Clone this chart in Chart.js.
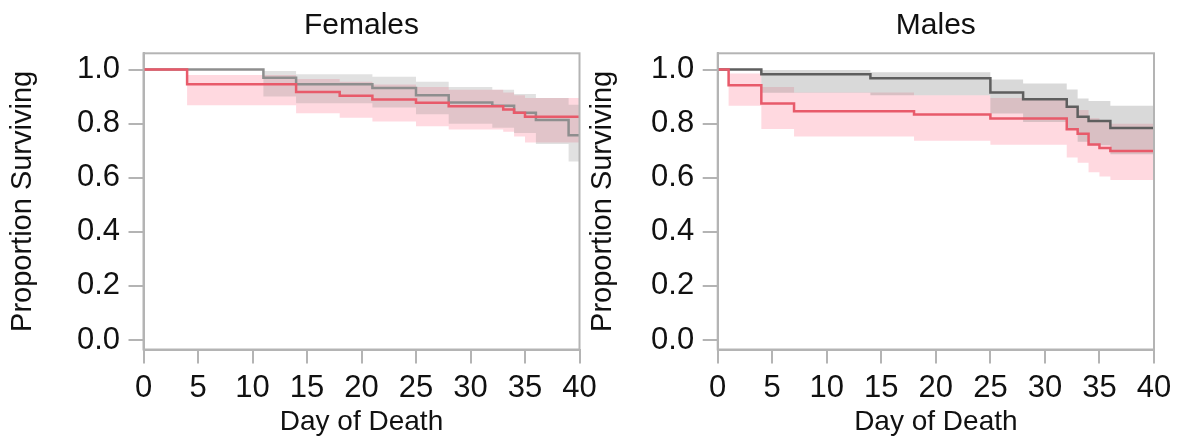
<!DOCTYPE html>
<html>
<head>
<meta charset="utf-8">
<script src="https://cdn.jsdelivr.net/npm/chart.js@4.4.1/dist/chart.umd.min.js"></script>
<style>
  html, body { margin: 0; padding: 0; background: #fff; }
  body { width: 1184px; height: 441px; position: relative; overflow: hidden; }
  .panel { position: absolute; top: 0; height: 441px; }
  #females-wrap { left: 0; width: 600px; }
  #males-wrap { left: 580px; width: 604px; }
</style>
</head>
<body>
<div class="panel" id="females-wrap"><canvas id="chart-females"></canvas></div>
<div class="panel" id="males-wrap"><canvas id="chart-males"></canvas></div>
<script>
// axis ticks
const dayTicks = [0, 5, 10, 15, 20, 25, 30, 35, 40];
const survTicks = [0, 0.2, 0.4, 0.6, 0.8, 1.0];

// Females - grey group (KM estimate + confidence band)
const femGreyDays  = [0, 11, 14, 21, 25, 28, 32, 34, 36, 39, 40];
const femGreySurv  = [1, 0.970, 0.946, 0.932, 0.905, 0.878, 0.866, 0.840, 0.813, 0.757, 0.757];
const femGreyUpper = [1, 0.995, 0.983, 0.973, 0.955, 0.935, 0.925, 0.910, 0.895, 0.870, 0.870];
const femGreyLower = [1, 0.900, 0.875, 0.860, 0.835, 0.800, 0.785, 0.765, 0.725, 0.660, 0.660];

// Females - red group
const femRedDays  = [0, 4, 14, 18, 21, 25, 28, 33, 34, 35, 40];
const femRedSurv  = [1, 0.946, 0.917, 0.903, 0.889, 0.877, 0.864, 0.852, 0.840, 0.825, 0.825];
const femRedUpper = [1, 0.980, 0.965, 0.955, 0.945, 0.935, 0.925, 0.915, 0.905, 0.895, 0.895];
const femRedLower = [1, 0.868, 0.838, 0.822, 0.808, 0.790, 0.778, 0.770, 0.752, 0.730, 0.730];

// Males - grey group
const maleGreyDays  = [0, 4, 14, 25, 28, 32, 33, 34, 36, 40];
const maleGreySurv  = [1, 0.983, 0.968, 0.915, 0.890, 0.862, 0.825, 0.810, 0.784, 0.784];
const maleGreyUpper = [1, 0.998, 0.990, 0.963, 0.948, 0.926, 0.893, 0.884, 0.866, 0.866];
const maleGreyLower = [1, 0.914, 0.905, 0.837, 0.806, 0.776, 0.733, 0.720, 0.687, 0.687];

// Males - red group
const maleRedDays  = [0, 1, 4, 7, 18, 25, 32, 33, 34, 35, 36, 40];
const maleRedSurv  = [1, 0.942, 0.874, 0.846, 0.834, 0.819, 0.779, 0.763, 0.723, 0.710, 0.699, 0.699];
const maleRedUpper = [1, 0.985, 0.935, 0.915, 0.905, 0.895, 0.865, 0.850, 0.820, 0.810, 0.800, 0.800];
const maleRedLower = [1, 0.866, 0.780, 0.752, 0.737, 0.722, 0.675, 0.655, 0.620, 0.605, 0.592, 0.592];

const fontFamily = "'Liberation Sans', Arial, sans-serif";
const textColor = '#111111';
const axisColor = '#b4b4b4';
const redLine = '#e85a6a';
const redBand = 'rgba(255, 120, 145, 0.28)';

const pts = (days, vals) => days.map((d, i) => ({ x: d, y: vals[i] }));

// grey frame round the plot area
const frameBox = {
  id: 'frameBox',
  afterDatasetsDraw(chart) {
    const { ctx, chartArea: a } = chart;
    ctx.save();
    ctx.strokeStyle = axisColor;
    ctx.lineWidth = 2;
    ctx.strokeRect(a.left, a.top, a.right - a.left, a.bottom - a.top);
    ctx.restore();
  },
};

function stepLine(data, color) {
  return { data, borderColor: color, borderWidth: 2.5, stepped: true, pointRadius: 0, fill: false };
}

function bandEdge(data, fill, color) {
  return {
    data, stepped: true, pointRadius: 0, borderWidth: 0,
    borderColor: 'transparent', backgroundColor: color || 'transparent', fill,
  };
}

function survivalChart(id, cfg) {
  const ctx = document.getElementById(id);
  return new Chart(ctx, {
    type: 'line',
    data: {
      datasets: [
        stepLine(pts(cfg.red.days, cfg.red.surv), redLine),
        stepLine(pts(cfg.grey.days, cfg.grey.surv), cfg.greyLine),
        bandEdge(pts(cfg.grey.days, cfg.grey.upper), '+1', cfg.greyBand),
        bandEdge(pts(cfg.grey.days, cfg.grey.lower), false),
        bandEdge(pts(cfg.red.days, cfg.red.upper), '+1', redBand),
        bandEdge(pts(cfg.red.days, cfg.red.lower), false),
      ],
    },
    options: {
      responsive: true,
      maintainAspectRatio: false,
      animation: false,
      layout: { padding: { left: 0, right: cfg.rightPad, top: 0, bottom: 0 } },
      plugins: {
        legend: { display: false },
        tooltip: { enabled: false },
        title: {
          display: true,
          text: cfg.title,
          fullSize: false,
          color: textColor,
          font: { family: fontFamily, size: 30, weight: 'normal' },
          padding: { top: 7.5, bottom: 9.8 },
        },
      },
      scales: {
        x: {
          type: 'linear',
          min: 0,
          max: 40,
          afterBuildTicks: s => { s.ticks = dayTicks.map(v => ({ value: v })); },
          afterFit: s => { s.height = 91.5; s.paddingLeft = 0; s.paddingRight = 0; },
          grid: { drawOnChartArea: false, drawTicks: true, tickLength: 14, color: axisColor, lineWidth: 2 },
          border: { display: true, color: axisColor, width: 2 },
          ticks: { padding: 6, color: textColor, autoSkip: false, maxRotation: 0, font: { family: fontFamily, size: 31 } },
          title: {
            display: true, text: 'Day of Death', color: textColor,
            font: { family: fontFamily, size: 28 }, padding: { top: 0, bottom: 1.5 },
          },
        },
        y: {
          min: -0.035,
          max: 1.06,
          afterBuildTicks: s => { s.ticks = survTicks.map(v => ({ value: v })); },
          afterFit: s => { s.width = cfg.yWidth; s.paddingTop = 0; s.paddingBottom = 0; },
          grid: { drawOnChartArea: false, drawTicks: true, tickLength: 15, color: axisColor, lineWidth: 2 },
          border: { display: true, color: axisColor, width: 2 },
          ticks: {
            padding: 8.5, color: textColor, font: { family: fontFamily, size: 31 },
            callback: v => Number(v).toFixed(1),
          },
          title: {
            display: true, text: 'Proportion Surviving', color: textColor,
            font: { family: fontFamily, size: 29 }, padding: { top: 5.6, bottom: 0 },
          },
        },
      },
    },
    plugins: [frameBox],
  });
}

survivalChart('chart-females', {
  title: 'Females',
  yWidth: 143.5,
  rightPad: 20.5,
  greyLine: '#8e8e8e',
  greyBand: 'rgba(128, 128, 128, 0.24)',
  grey: { days: femGreyDays, surv: femGreySurv, upper: femGreyUpper, lower: femGreyLower },
  red: { days: femRedDays, surv: femRedSurv, upper: femRedUpper, lower: femRedLower },
});

survivalChart('chart-males', {
  title: 'Males',
  yWidth: 137.7,
  rightPad: 30,
  greyLine: '#5e5e5e',
  greyBand: 'rgba(128, 128, 128, 0.3)',
  grey: { days: maleGreyDays, surv: maleGreySurv, upper: maleGreyUpper, lower: maleGreyLower },
  red: { days: maleRedDays, surv: maleRedSurv, upper: maleRedUpper, lower: maleRedLower },
});
</script>
</body>
</html>
